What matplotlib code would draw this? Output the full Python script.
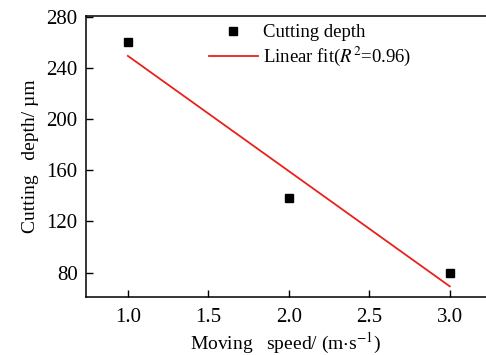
import numpy as np
import matplotlib.pyplot as plt

plt.rcParams['font.family'] = ['Liberation Serif', 'DejaVu Serif']
plt.rcParams['mathtext.fontset'] = 'stix'

# data
speed = [1.0, 2.0, 3.0]
depth = [260, 138, 80]
x_ticks = [1.0, 1.5, 2.0, 2.5, 3.0]
y_ticks = [80, 120, 160, 200, 240, 280]

k, b = np.polyfit(speed, depth, 1)
fit_x = np.array([speed[0], speed[-1]])
fit_y = k * fit_x + b

fig = plt.figure(figsize=(4.86, 3.55), dpi=100)
ax = fig.add_axes([86 / 486, 1 - 297 / 355, 400 / 486, 281 / 355])

ax.plot(speed, depth, 's', color='black', markersize=5.5, label='Cutting depth', linestyle='none')
ax.plot(fit_x, fit_y, color='#e8211d', linewidth=1.3, label='Linear fit($R^2$=0.96)')

ax.set_xlim(0.74, 3.225)
ax.set_ylim(61, 280.5)
ax.set_xticks(x_ticks)
ax.set_xticklabels(['%.1f' % v for v in x_ticks])
ax.set_yticks(y_ticks)
ax.tick_params(direction='in', length=5, width=1, labelsize=15, pad=6)
ax.tick_params(axis='x', pad=8)
ax.spines['right'].set_visible(False)
for s in ['left', 'bottom', 'top']:
    ax.spines[s].set_linewidth(1.1)

ax.set_xlabel('Moving   speed/ (m$\\cdot$s$^{-1}$)', fontsize=14, labelpad=3)
ax.set_ylabel('Cutting   depth/ \u00b5m', fontsize=14, labelpad=5)

leg = ax.legend(loc='upper left', bbox_to_anchor=(0.27, 1.025), frameon=False, fontsize=13.5,
                handlelength=2.6, handletextpad=0.3, labelspacing=0.2, borderpad=0.3)

fig.savefig('out.png', dpi=100)
